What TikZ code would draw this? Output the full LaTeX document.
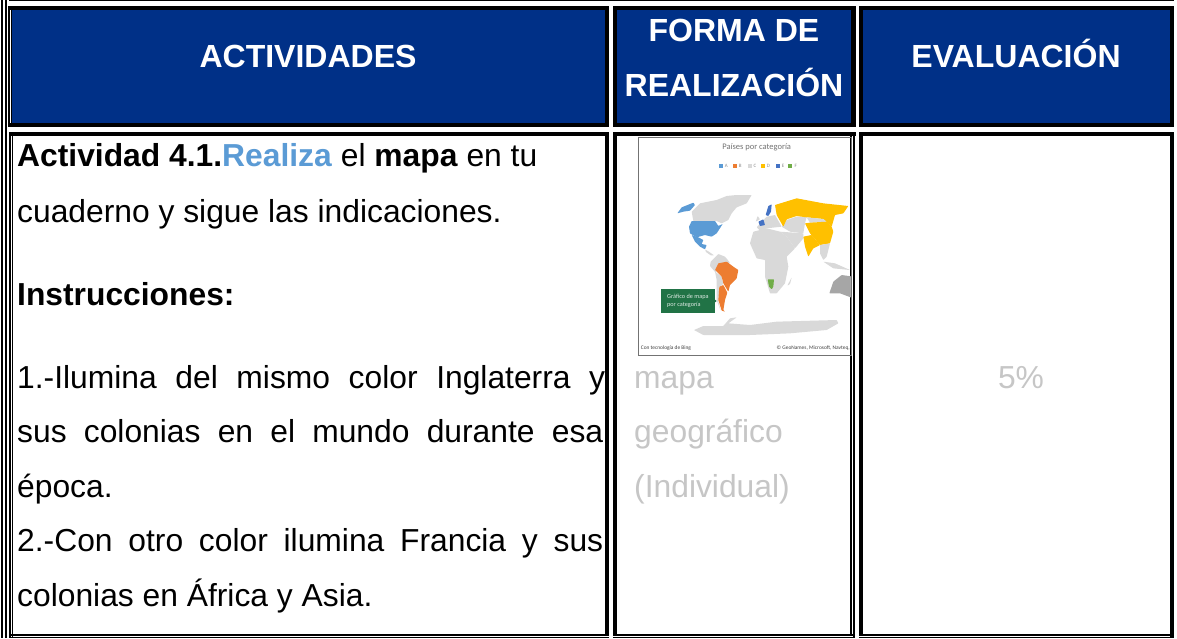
\documentclass[tikz,border=0pt]{standalone}
\usepackage{fontspec}
\setmainfont{Liberation Sans}
\newfontfamily\mapfont{Carlito}
\definecolor{hdrblue}{HTML}{003087}
\definecolor{accent}{HTML}{5B9BD5}
\definecolor{paletext}{HTML}{C6C6C6}
\definecolor{land}{HTML}{D9D9D9}
\definecolor{mapblue}{HTML}{5B9BD5}
\definecolor{maporange}{HTML}{ED7D31}
\definecolor{mapyellow}{HTML}{FFC000}
\definecolor{mapnavy}{HTML}{4472C4}
\definecolor{mapgreen}{HTML}{70AD47}
\definecolor{boxgreen}{HTML}{217346}
\tikzset{
  bodytext/.style={anchor=base west,inner sep=0pt,font=\fontsize{31.8}{38}\selectfont},
  hdrtext/.style={anchor=base,inner sep=0pt,text=white,font=\fontsize{32}{38}\selectfont\bfseries},
  palenote/.style={bodytext,text=paletext},
  hdrfill/.style={fill=hdrblue,draw=none},
  maptiny/.style={inner sep=0pt,font=\fontsize{5.4}{6.5}\selectfont\mapfont,text=black!75},
}
\newcommand{\stripe}[4]{\fill[black] (#1,#2) rectangle (#3,#4);}
\begin{document}
\begin{tikzpicture}[x=1pt,y=-1pt]
\useasboundingbox (0,0) rectangle (1177,638);
\fill[white] (0,0) rectangle (1177,638);
% outer frame
\stripe{1}{0}{3}{638}
\stripe{5}{0}{7}{638}
\stripe{9}{0}{1174}{1}
% header cells
\stripe{8}{6}{609}{127}
\stripe{613}{6}{856}{127}
\stripe{859}{6}{1174}{127}
\fill[white] (10,10) rectangle (11,123);
\path[hdrfill] (12,10) rectangle (605,123);
\path[hdrfill] (617,10) rectangle (851,123);
\path[hdrfill] (863,10) rectangle (1170,123);
% body cells: tops
\stripe{9}{132}{609}{136}
\stripe{613}{132}{856}{136}
\stripe{859}{132}{1174}{136}
% body cells: left and right sides
\stripe{9}{132}{11}{638}
\stripe{12}{132}{13}{638}
\stripe{605}{132}{609}{636}
\stripe{613}{132}{617}{636}
\stripe{850}{132}{851.6}{636}
\stripe{853.4}{132}{855}{638}
\stripe{859}{132}{863}{636}
\stripe{1170}{132}{1174}{638}
% body cells: double bottoms
\foreach \a/\b in {9/609,613/855,859/1174}{
  \stripe{\a}{634}{\b}{635.6}
  \stripe{\a}{636.8}{\b}{638}
}
\fill[white] (605,635.6) rectangle (609,636.8);
% header text
\node[hdrtext] (h1) at (308,67) {ACTIVIDADES};
\node[hdrtext] (h2a) at (734,41) {FORMA DE};
\node[hdrtext] (h2b) at (734,96) {REALIZACIÓN};
\node[hdrtext] (h3) at (1016,67) {EVALUACIÓN};
% body text
\node[bodytext] (t1) at (17,166) {\textbf{Actividad 4.1.}\textcolor{accent}{\textbf{Realiza}} el \textbf{mapa} en tu};
\node[bodytext] (t2) at (17,222) {cuaderno y sigue las indicaciones.};
\node[bodytext] (t3) at (17,305) {\textbf{Instrucciones:}};
\node[bodytext] (t4) at (17,388) {\makebox[588pt][s]{1.-Ilumina del mismo color Inglaterra y}};
\node[bodytext] (t5) at (17,442) {\makebox[586pt][s]{sus colonias en el mundo durante esa}};
\node[bodytext] (t6) at (17,497) {época.};
\node[bodytext] (t7) at (17,551) {\makebox[586pt][s]{2.-Con otro color ilumina Francia y sus}};
\node[bodytext] (t8) at (17,606) {colonias en África y Asia.};
\node[palenote] (m1) at (634,388) {mapa};
\node[palenote] (m2) at (634,442) {geográfico};
\node[palenote] (m3) at (634,497) {(Individual)};
\node[palenote,anchor=base] (pct) at (1021,388) {5\%};
% map picture
\begin{scope}
\clip (638,137) rectangle (851.7,355.5);
\begin{scope}[shift={(590,120)},x=0.33333pt,y=-0.33333pt]
\begin{scope}[rounded corners=0.5pt]
\fill[land] (305,275)--(330,250)--(380,240)--(410,228)--(440,225)--(485,225)--(470,250)--(440,262)--(425,280)--(415,300)--(395,310)--(380,303)--(310,303)--cycle;
\fill[mapblue] (262,280)--(275,262)--(310,248)--(315,255)--(300,272)--(280,275)--cycle;
\fill[mapblue] (297,320)--(305,303)--(375,303)--(385,318)--(398,312)--(380,340)--(365,350)--(345,345)--(320,352)--(300,340)--cycle;
\fill[mapblue] (305,345)--(325,352)--(340,360)--(335,372)--(350,375)--(345,388)--(330,380)--(315,365)--cycle;
\fill[land] (345,388)--(358,396)--(372,406)--(362,406)--(348,396)--cycle;
\fill[land] (362,425)--(385,402)--(405,410)--(420,428)--(385,432)--(377,458)--(360,438)--cycle;
\fill[land] (375,455)--(395,470)--(400,492)--(388,500)--(385,545)--(392,572)--(380,540)--(380,480)--cycle;
\fill[maporange] (375,450)--(385,430)--(410,425)--(430,440)--(445,450)--(440,475)--(420,495)--(415,515)--(400,490)--(395,470)--cycle;
\fill[maporange] (388,500)--(400,495)--(412,518)--(405,540)--(400,570)--(405,575)--(395,572)--(385,540)--cycle;
\fill[land] (480,370)--(490,335)--(530,325)--(570,335)--(590,350)--(615,385)--(590,410)--(595,440)--(585,490)--(560,520)--(540,520)--(525,470)--(525,420)--(500,415)--cycle;
\fill[mapgreen] (533,478)--(552,478)--(550,500)--(545,508)--(537,500)--cycle;
\fill[land] (592,497)--(605,472)--(600,492)--cycle;
\fill[land] (500,322)--(530,290)--(555,285)--(575,320)--(530,325)--(510,332)--cycle;
\fill[land] (497,305)--(503,288)--(510,298)--cycle;
\fill[mapnavy] (505,305)--(520,298)--(525,315)--(510,318)--cycle;
\fill[mapnavy] (527,285)--(535,258)--(545,253)--(543,275)--(535,288)--cycle;
\fill[land] (575,320)--(590,300)--(620,290)--(650,290)--(645,310)--(640,340)--(600,335)--cycle;
\fill[land] (570,335)--(640,340)--(640,355)--(615,385)--(590,350)--cycle;
\fill[mapyellow] (555,255)--(620,235)--(700,250)--(775,258)--(760,280)--(735,285)--(725,320)--(700,297)--(650,292)--(620,288)--(590,298)--(580,320)--(560,285)--cycle;
\fill[land] (650,292)--(700,297)--(710,305)--(660,308)--cycle;
\fill[mapyellow] (645,310)--(660,308)--(710,305)--(725,320)--(730,335)--(720,370)--(690,375)--(660,340)--cycle;
\fill[mapyellow] (640,350)--(665,345)--(690,375)--(670,385)--(655,410)--(645,380)--cycle;
\fill[land] (690,375)--(720,370)--(710,410)--(700,420)--(690,400)--cycle;
\fill[land] (700,425)--(735,430)--(780,450)--(730,445)--cycle;
\fill[black!35] (718,520)--(730,485)--(755,465)--(790,470)--(790,535)--(750,520)--cycle;
\fill[land] (312,630)--(340,618)--(400,618)--(420,595)--(440,592)--(415,610)--(480,615)--(560,605)--(740,600)--(745,610)--(710,630)--(600,640)--(480,645)--(340,645)--cycle;
\end{scope}
% legend
\foreach \px/\col/\lab in {392/mapblue/A,434/maporange/B,478/land/C,518/mapyellow/D,562/mapnavy/E,600/mapgreen/F}{
  \fill[\col] (\px-5,132) rectangle (\px+7,145);
  \node[maptiny,text=black!45,font=\fontsize{5}{6}\selectfont\mapfont] at (\px+17,138.5) {\lab};
}
% callout
\fill[boxgreen] (214,508) rectangle (374,578);
\fill[boxgreen] (374,538)--(380,543)--(374,548)--cycle;
\node[inner sep=0pt,anchor=west,align=left,text=white!85!boxgreen,font=\fontsize{6.2}{8}\selectfont\mapfont] (cb) at (231,542) {Gráfico de mapa\\por categoría};
\node[inner sep=0pt,text=black!55,font=\fontsize{8.5}{10}\selectfont\mapfont] (mt) at (500,82) {Países por categoría};
\node[maptiny,anchor=west] (mb1) at (152,684) {Con tecnología de Bing};
\node[maptiny,anchor=east] (mb2) at (780,684) {© GeoNames, Microsoft, Navteq,};
\end{scope}
\end{scope}
\draw[black!55,line width=0.7pt] (638.3,137.3) rectangle (851.7,355.5);
\end{tikzpicture}
\end{document}
